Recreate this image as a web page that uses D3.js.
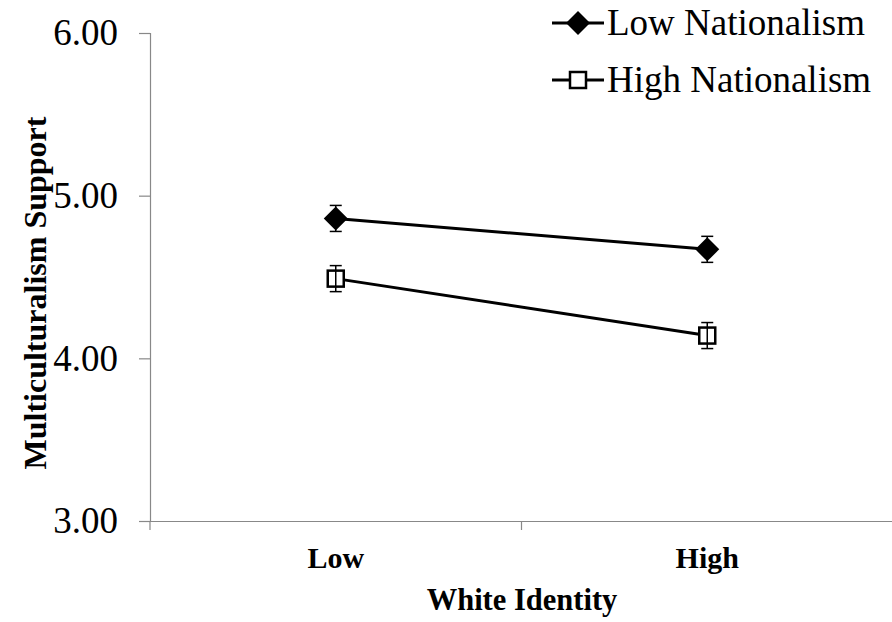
<!DOCTYPE html>
<html>
<head>
<meta charset="utf-8">
<script src="https://cdn.jsdelivr.net/npm/d3@7"></script>
<style>
  body { margin: 0; background: #fff; }
  text { font-family: "Liberation Serif", "Times New Roman", serif; fill: #000; }
</style>
</head>
<body>
<div id="chart"></div>
<script>
const categories = ['Low', 'High'];
const seriesNames = ['Low Nationalism', 'High Nationalism'];
const lowNationalism = [4.86, 4.67];
const highNationalism = [4.49, 4.14];
const lowNatErr = [0.08, 0.08];
const highNatErr = [0.08, 0.08];
const yTicks = [3, 4, 5, 6];

const width = 892;
const height = 622;
const plot = { left: 150, right: 893, top: 33, bottom: 521 };

const svg = d3.select('#chart')
    .append('svg')
    .attr('width', width)
    .attr('height', height);

const x = d3.scaleBand()
    .domain(categories)
    .range([plot.left, plot.right]);

const y = d3.scaleLinear()
    .domain([3, 6])
    .range([plot.bottom, plot.top]);

// y axis
const yAxis = d3.axisLeft(y)
    .tickValues(yTicks)
    .tickSize(11)
    .tickPadding(21)
    .tickFormat(d3.format('.2f'));

const gy = svg.append('g')
    .attr('transform', `translate(${plot.left},0)`)
    .call(yAxis);
gy.select('.domain').attr('stroke', '#888').attr('stroke-width', 1.2);
gy.selectAll('.tick line').attr('stroke', '#888').attr('stroke-width', 1.2);
gy.selectAll('.tick text')
    .style('font-size', '37px')
    .style('font-family', '"Liberation Serif", serif')
    .attr('fill', '#000');

// x axis: ticks at band edges
const xAxis = d3.axisBottom(x).tickSize(0).tickFormat('');
const gx = svg.append('g')
    .attr('transform', `translate(0,${plot.bottom})`)
    .call(xAxis);
gx.select('.domain').attr('stroke', '#888').attr('stroke-width', 1.2);

const edges = categories.map(c => x(c)).concat([x(categories[categories.length - 1]) + x.bandwidth()]);
svg.selectAll('.xedge')
    .data(edges)
    .enter()
    .append('line')
    .attr('class', 'xedge')
    .attr('x1', d => d)
    .attr('x2', d => d)
    .attr('y1', plot.bottom)
    .attr('y2', plot.bottom + 9)
    .attr('stroke', '#888')
    .attr('stroke-width', 1.2);

svg.selectAll('.xlabel')
    .data(categories)
    .enter()
    .append('text')
    .attr('class', 'xlabel')
    .attr('x', d => x(d) + x.bandwidth() / 2)
    .attr('y', 568)
    .attr('text-anchor', 'middle')
    .style('font-size', '30px')
    .style('font-weight', 'bold')
    .text(d => d);

svg.append('text')
    .attr('x', 522)
    .attr('y', 610)
    .attr('text-anchor', 'middle')
    .style('font-size', '30.5px')
    .style('font-weight', 'bold')
    .text('White Identity');

svg.append('text')
    .attr('transform', 'rotate(-90)')
    .attr('x', -293)
    .attr('y', 46)
    .attr('text-anchor', 'middle')
    .style('font-size', '32px')
    .style('font-weight', 'bold')
    .text('Multiculturalism Support');

const cx = d => x(d) + x.bandwidth() / 2;

const line = d3.line()
    .x((d, i) => cx(categories[i]))
    .y(d => y(d));

const series = [
    { name: seriesNames[0], values: lowNationalism, err: lowNatErr, marker: 'diamond' },
    { name: seriesNames[1], values: highNationalism, err: highNatErr, marker: 'square' }
];

const diamond = (g, px, py) => g.append('path')
    .attr('d', `M${px},${py - 12}L${px + 12},${py}L${px},${py + 12}L${px - 12},${py}Z`)
    .attr('fill', '#000');

const square = (g, px, py) => g.append('rect')
    .attr('x', px - 8)
    .attr('y', py - 8)
    .attr('width', 16)
    .attr('height', 16)
    .attr('fill', '#fff')
    .attr('stroke', '#000')
    .attr('stroke-width', 2.5);

series.forEach(s => {
    const g = svg.append('g');
    g.append('path')
        .datum(s.values)
        .attr('fill', 'none')
        .attr('stroke', '#000')
        .attr('stroke-width', 3)
        .attr('d', line);

    s.values.forEach((v, i) => {
        const px = cx(categories[i]);
        const e = s.err[i];
        g.append('line')
            .attr('x1', px).attr('x2', px)
            .attr('y1', y(v + e)).attr('y2', y(v - e))
            .attr('stroke', '#000').attr('stroke-width', 1.5);
        [v + e, v - e].forEach(ev => {
            g.append('line')
                .attr('x1', px - 6).attr('x2', px + 6)
                .attr('y1', y(ev)).attr('y2', y(ev))
                .attr('stroke', '#000').attr('stroke-width', 1.5);
        });
        if (s.marker === 'diamond') diamond(g, px, y(v));
        else {
            square(g, px, y(v));
            g.append('line')
                .attr('x1', px).attr('x2', px)
                .attr('y1', y(v) - 8).attr('y2', y(v) + 8)
                .attr('stroke', '#000').attr('stroke-width', 1.5);
        }
    });
});

// legend
const legendY = [23, 80];
series.forEach((s, i) => {
    const lg = svg.append('g')
        .attr('transform', `translate(552,${legendY[i]})`);
    lg.append('line')
        .attr('x1', 0).attr('x2', 52)
        .attr('y1', 0).attr('y2', 0)
        .attr('stroke', '#000')
        .attr('stroke-width', 3);
    if (s.marker === 'diamond') diamond(lg, 26, 0);
    else square(lg, 26, 0);
    lg.append('text')
        .attr('x', 55)
        .attr('y', 12)
        .style('font-size', '37px')
        .text(s.name);
});
</script>
</body>
</html>
